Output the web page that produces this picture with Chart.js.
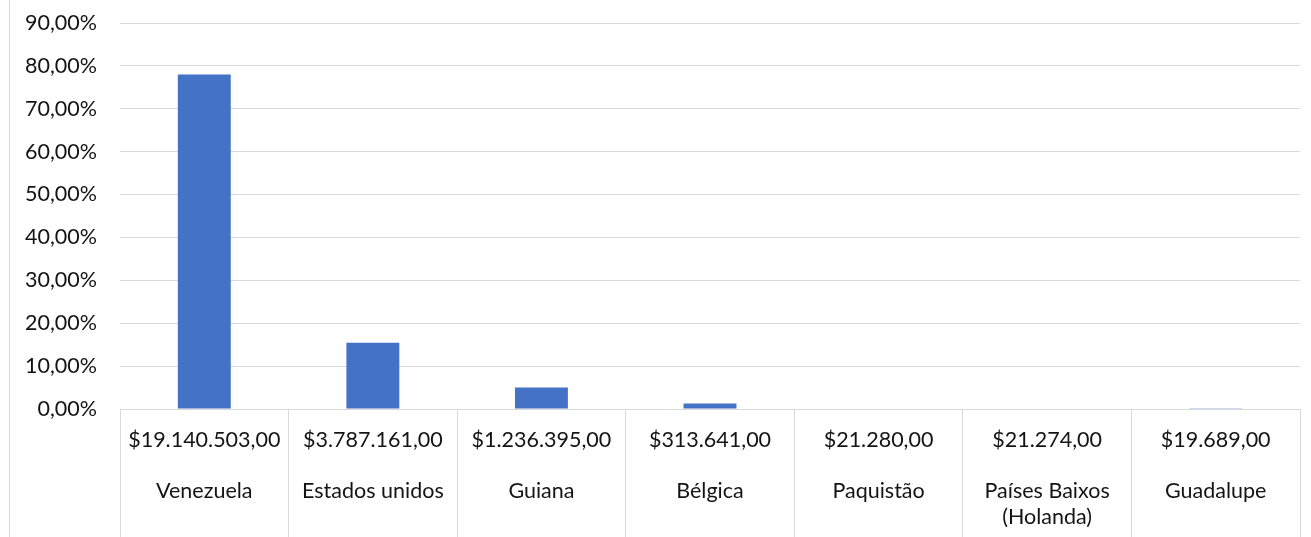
<!DOCTYPE html>
<html>
<head>
<meta charset="utf-8">
<script src="https://cdn.jsdelivr.net/npm/chart.js@4"></script>
<style>
  body { margin: 0; background: #fff; }
  #wrap { position: relative; width: 1311px; height: 537px; }
  #edge { position: absolute; left: 9px; top: 0; width: 1px; height: 537px; background: #d9d9d9; }
</style>
</head>
<body>
<div id="wrap">
  <div id="edge"></div>
  <canvas id="chart" width="1311" height="537"></canvas>
</div>
<script>
const amounts = ['$19.140.503,00', '$3.787.161,00', '$1.236.395,00', '$313.641,00', '$21.280,00', '$21.274,00', '$19.689,00'];
const countries = [['Venezuela'], ['Estados unidos'], ['Guiana'], ['Bélgica'], ['Paquistão'], ['Países Baixos', '(Holanda)'], ['Guadalupe']];
const shares = [78.00, 15.43, 5.04, 1.28, 0.09, 0.09, 0.08];
const yTicks = [0, 10, 20, 30, 40, 50, 60, 70, 80, 90];

const gridColor = '#d9d9d9';
const textColor = '#141414';
const font = { family: 'Lato', size: 21.5 };

// two rows per category: amount, blank gap, country name
const labels = amounts.map((a, i) => [a, ''].concat(countries[i]));

const chart = document.querySelector('#chart').getContext('2d');

new Chart(chart, {
    type: 'bar',
    data: {
        labels: labels,
        datasets: [
            {
                data: shares,
                backgroundColor: '#4472C4',
                categoryPercentage: 1,
                barPercentage: 0.314
            }
        ]
    },
    options: {
        responsive: false,
        animation: false,
        layout: { padding: { left: 10, right: 11, top: 23, bottom: 0 } },
        plugins: { legend: { display: false }, tooltip: { enabled: false } },
        scales: {
            x: {
                grid: { offset: true, drawOnChartArea: false, color: gridColor, tickLength: 128 },
                border: { color: gridColor },
                ticks: {
                    color: textColor, font: font, padding: -110,
                    maxRotation: 0, autoSkip: false
                },
                afterFit: (axis) => { axis.height = 128; }
            },
            y: {
                min: 0,
                max: 90,
                afterBuildTicks: (axis) => { axis.ticks = yTicks.map(v => ({ value: v })); },
                grid: { color: gridColor, drawTicks: false },
                border: { display: false },
                ticks: {
                    color: textColor, font: font, padding: 23,
                    callback: (v) => v.toFixed(2).replace('.', ',') + '%'
                },
                afterFit: (axis) => {
                    axis.width = 110;
                    axis.paddingTop = 0;
                }
            }
        }
    }
});
</script>
</body>
</html>
